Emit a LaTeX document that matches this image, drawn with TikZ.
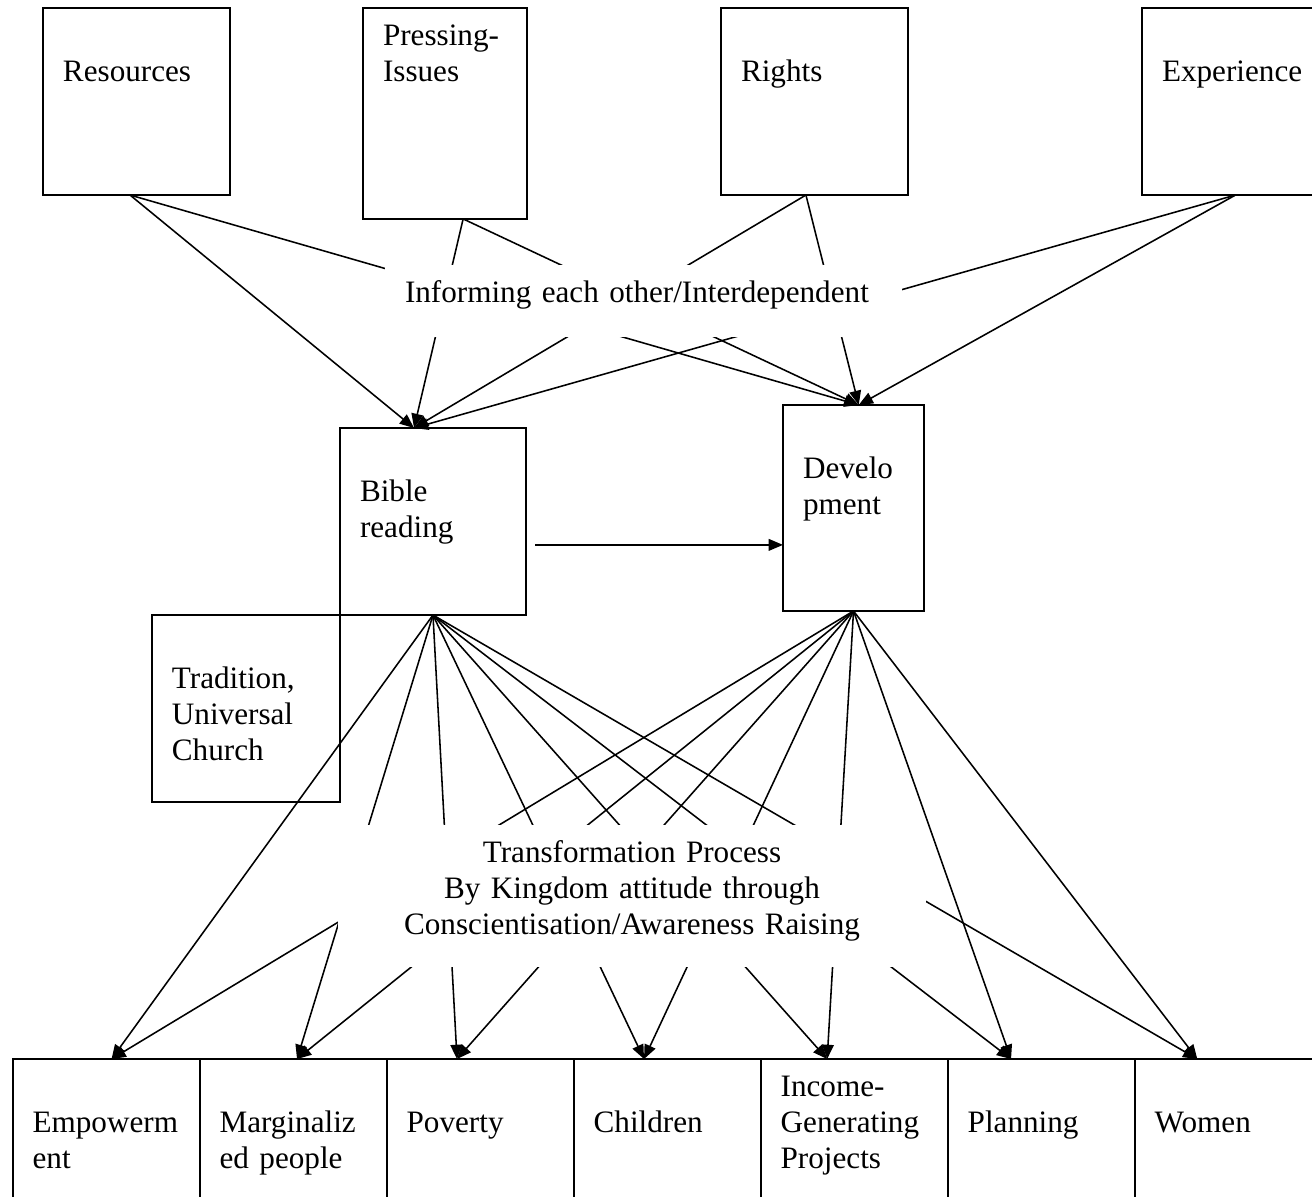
\documentclass[tikz,border=0pt]{standalone}
\usepackage{fontspec}
\setmainfont{Liberation Serif}
\usetikzlibrary{arrows.meta,positioning}

\begin{document}
\begin{tikzpicture}[
    x=0.385pt, y=-0.385pt,
    node distance=0pt,
    font=\fontsize{12}{13.8}\selectfont,
    box/.style 2 args={draw, line width=0.7pt, anchor=north west, align=left,
      inner xsep=7.7pt, inner ysep=0pt, outer sep=0pt,
      text width=#1, text height=14.5pt, text depth=#2},
    cell/.style={box={56.6pt}{51.5pt}},
    note/.style 2 args={fill=white, anchor=north west, inner xsep=7.7pt,
      inner ysep=0pt, outer sep=0pt, text width=#1, text height=14.5pt, text depth=#2},
    flow/.style={-{Triangle[length=5.5pt, width=4.5pt]}, line width=0.6pt}]
  \useasboundingbox (0,0) rectangle (1312,1197);
  \clip (0,0) rectangle (1312,1197);
  % sources on top
  \node[box={56.6pt}{57.5pt}] (res) at (43,8) {\mbox{}\\Resources};
  \node[box={47.7pt}{66.7pt}] (press) at (363,8) {Pressing-\\Issues};
  \node[box={56.6pt}{57.5pt}] (rights) at (721,8) {\mbox{}\\Rights};
  \node[box={56.6pt}{57.5pt}] (exper) at (1142,8) {\mbox{}\\Experience};
  % middle
  \node[box={56.2pt}{57.5pt}] (bible) at (340,428) {\mbox{}\\Bible\\reading};
  \node[box={38.9pt}{64.8pt}] (dev) at (783,405) {\mbox{}\\Develo\\pment};
  \node[box={57pt}{57.5pt}, anchor=north east] (trad) at (bible.south west)
       {\mbox{}\\Tradition,\\Universal\\Church};
  % bottom row
  \node[cell] (emp) at (12.6,1059) {\mbox{}\\Empowerm\\ent};
  \node[cell, right=of emp] (marg) {\mbox{}\\Marginaliz\\ed people};
  \node[cell, right=of marg] (pov) {\mbox{}\\Poverty};
  \node[cell, right=of pov] (child) {\mbox{}\\Children};
  \node[cell, right=of child] (income) {Income-\\Generating\\Projects};
  \node[cell, right=of income] (plan) {\mbox{}\\Planning};
  \node[cell, right=of plan] (women) {\mbox{}\\Women};

  \coordinate (res-out) at ([xshift=-2.5pt]res.south);
  \coordinate (press-out) at ([xshift=7pt]press.south);
  \coordinate (rights-out) at ([xshift=-3.3pt]rights.south);
  \coordinate (bible-in) at ([xshift=-7.3pt]bible.north);
  \coordinate (dev-in) at ([xshift=2pt]dev.north);
  \coordinate (bd) at ([xshift=3.5pt, yshift=-9pt]bible.east);
  \coordinate (emp-in) at ([xshift=2.1pt]emp.north);
  \coordinate (marg-in) at ([xshift=1.5pt]marg.north);
  \coordinate (pov-in) at ([xshift=-8.9pt]pov.north);
  \coordinate (child-in) at ([xshift=-8.9pt]child.north);
  \coordinate (income-in) at ([xshift=-10.4pt]income.north);
  \coordinate (plan-in) at ([xshift=-11.6pt]plan.north);
  \coordinate (women-in) at ([xshift=-11.9pt]women.north);

  % into bible reading and development
  \draw[flow] (res-out) -- (bible-in);
  \draw[flow] (res-out) -- (dev-in);
  \draw[flow] (press-out) -- (bible-in);
  \draw[flow] (press-out) -- (dev-in);
  \draw[flow] (rights-out) -- (bible-in);
  \draw[flow] (rights-out) -- (dev-in);
  \draw[flow] (exper.south) -- (bible-in);
  \draw[flow] (exper.south) -- (dev-in);
  \draw[flow] (bd) -- (bd -| dev.west);

  % out to the bottom row
  \draw[flow] (bible.south) -- (emp-in);
  \draw[flow] (dev.south) -- (emp-in);
  \draw[flow] (bible.south) -- (marg-in);
  \draw[flow] (dev.south) -- (marg-in);
  \draw[flow] (bible.south) -- (pov-in);
  \draw[flow] (dev.south) -- (pov-in);
  \draw[flow] (bible.south) -- (child-in);
  \draw[flow] (dev.south) -- (child-in);
  \draw[flow] (bible.south) -- (income-in);
  \draw[flow] (dev.south) -- (income-in);
  \draw[flow] (bible.south) -- (plan-in);
  \draw[flow] (dev.south) -- (plan-in);
  \draw[flow] (bible.south) -- (women-in);
  \draw[flow] (dev.south) -- (women-in);

  % text boxes lying over the lines
  \node[note={183.6pt}{13.2pt}, align=left] (inform) at (385,265)
       {Informing each other/Interdependent};
  \node[note={211pt}{40.2pt}, align=center] (trans) at (338,825)
       {Transformation Process\\By Kingdom attitude through\\Conscientisation/Awareness Raising};
\end{tikzpicture}
\end{document}
